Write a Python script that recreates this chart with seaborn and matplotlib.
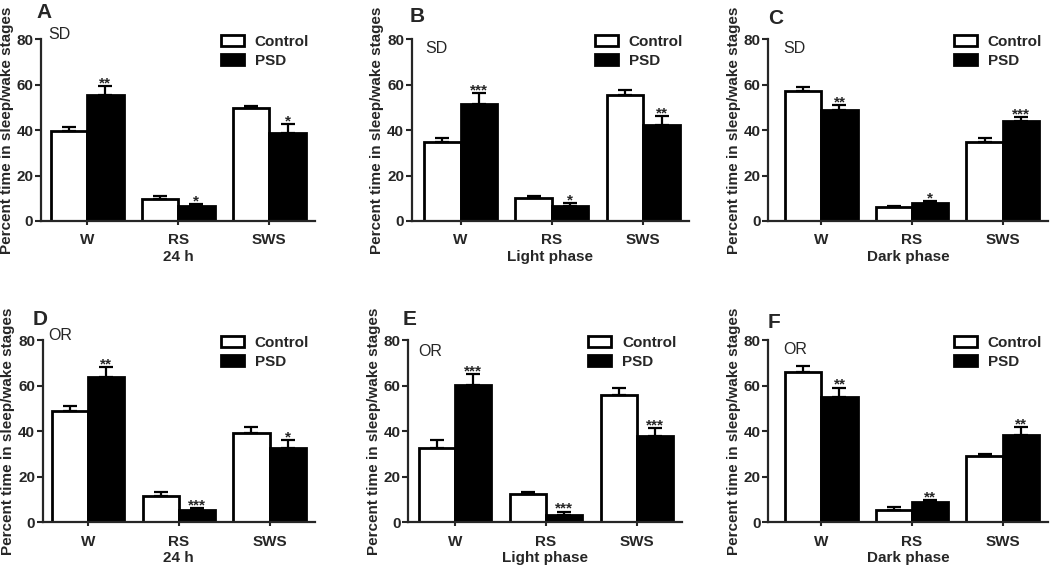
import numpy as np
import pandas as pd
import seaborn as sns
import matplotlib.pyplot as plt

# Sleep/wake stage data (mean, SEM)
stages = ['W', 'RS', 'SWS']
groups = ['Control', 'PSD']

a_ctrl = [39.6, 9.8, 49.9]
a_ctrl_err = [1.7, 1.1, 0.9]
a_psd = [55.6, 6.6, 38.9]
a_psd_err = [4.0, 0.9, 3.8]
a_stars = ['**', '*', '*']

b_ctrl = [34.7, 10.0, 55.4]
b_ctrl_err = [2.1, 0.9, 2.2]
b_psd = [51.5, 6.6, 42.5]
b_psd_err = [5.0, 1.5, 3.8]
b_stars = ['***', '*', '**']

c_ctrl = [57.4, 6.0, 34.8]
c_ctrl_err = [1.7, 0.8, 2.0]
c_psd = [48.9, 8.0, 44.0]
c_psd_err = [2.2, 0.7, 2.0]
c_stars = ['**', '*', '***']

d_ctrl = [49.0, 11.6, 39.4]
d_ctrl_err = [2.2, 1.6, 2.6]
d_psd = [63.7, 5.3, 32.6]
d_psd_err = [4.7, 1.0, 3.5]
d_stars = ['**', '***', '*']

e_ctrl = [32.6, 12.2, 56.1]
e_ctrl_err = [3.4, 1.0, 2.9]
e_psd = [60.5, 3.2, 37.9]
e_psd_err = [4.6, 1.4, 3.5]
e_stars = ['***', '***', '***']

f_ctrl = [65.9, 5.4, 29.0]
f_ctrl_err = [2.7, 1.0, 0.9]
f_psd = [55.1, 8.6, 38.3]
f_psd_err = [4.1, 1.1, 3.7]
f_stars = ['**', '**', '**']

letters = ['A', 'B', 'C', 'D', 'E', 'F']
conditions = ['SD', 'SD', 'SD', 'OR', 'OR', 'OR']
phases = ['24 h', 'Light phase', 'Dark phase', '24 h', 'Light phase', 'Dark phase']
y_ticks = [0, 20, 40, 60, 80]

panels = [
    (a_ctrl, a_ctrl_err, a_psd, a_psd_err, a_stars),
    (b_ctrl, b_ctrl_err, b_psd, b_psd_err, b_stars),
    (c_ctrl, c_ctrl_err, c_psd, c_psd_err, c_stars),
    (d_ctrl, d_ctrl_err, d_psd, d_psd_err, d_stars),
    (e_ctrl, e_ctrl_err, e_psd, e_psd_err, e_stars),
    (f_ctrl, f_ctrl_err, f_psd, f_psd_err, f_stars),
]

# Layout in pixels: axes left, right, top, bottom, x-limit start
W, H = 1050, 568
boxes = [
    (41, 315, 39.5, 221, -0.505),
    (411.7, 689, 39.5, 221, -0.535),
    (768.3, 1048, 39.5, 221, -0.585),
    (42.7, 315, 340.3, 522, -0.5),
    (408.3, 682.5, 340.3, 522, -0.514),
    (768.3, 1048, 340.3, 522, -0.585),
]
letter_pos = [(36, 17.5), (410, 21.5), (768, 24.5), (33, 325), (403, 325), (768, 328)]
cond_pos = [(48, 39), (425, 53), (783, 53), (48, 340), (418, 356), (783, 354)]

sns.set_style('ticks')
plt.rcParams['font.family'] = ['Liberation Sans', 'DejaVu Sans']
plt.rcParams['font.weight'] = 'bold'
plt.rcParams['axes.labelweight'] = 'bold'

fig = plt.figure(figsize=(W / 100, H / 100), dpi=100)

for i, (ctrl, ctrl_err, psd, psd_err, stars) in enumerate(panels):
    left, right, top, bottom, xmin = boxes[i]
    ax = fig.add_axes([left / W, 1 - bottom / H, (right - left) / W, (bottom - top) / H])

    df = pd.DataFrame({
        'stage': stages * 2,
        'group': [groups[0]] * 3 + [groups[1]] * 3,
        'value': ctrl + psd,
    })
    sns.barplot(data=df, x='stage', y='value', hue='group',
                palette={'Control': 'white', 'PSD': 'black'},
                edgecolor='black', linewidth=2, errorbar=None, ax=ax)

    # one-sided SEM bars on top of each bar
    for k, (cont, err) in enumerate(zip(ax.containers, [ctrl_err, psd_err])):
        xs = [b.get_x() + b.get_width() / 2 for b in cont]
        hs = [b.get_height() for b in cont]
        ax.errorbar(xs, hs, yerr=[np.zeros(len(err)), err], fmt='none',
                    ecolor='black', elinewidth=1.6, capsize=5, capthick=1.6)
        if k == 1:
            for x, h, e, s in zip(xs, hs, err, stars):
                ax.annotate(s, (x, h + e), xytext=(0, -1), textcoords='offset points',
                            ha='center', va='baseline', fontsize=11, fontweight='bold')

    ax.set_ylim(0, 80)
    ax.set_xlim(xmin, 2.5)
    ax.set_yticks(y_ticks)
    ax.set_xlabel(phases[i], fontsize=11, labelpad=2)
    ax.set_ylabel('Percent time in sleep/wake stages', fontsize=11, labelpad=2)
    ax.tick_params(axis='y', labelsize=11, length=4, width=1.5, pad=1.5)
    ax.tick_params(axis='x', labelsize=11, length=3, width=1.5, pad=6)
    for sp in ['left', 'bottom']:
        ax.spines[sp].set_linewidth(1.6)
    sns.despine(ax=ax)

    sns.move_legend(ax, 'upper right', bbox_to_anchor=(1.0, 1.06), frameon=False,
                    title=None, prop={'weight': 'bold', 'size': 11},
                    handlelength=1.5, handleheight=0.7, handletextpad=0.7,
                    labelspacing=0.35, borderaxespad=0)

    lx, ly = letter_pos[i]
    fig.text(lx / W, 1 - ly / H, letters[i], fontsize=15, fontweight='bold',
             ha='left', va='baseline')
    cx, cy = cond_pos[i]
    fig.text(cx / W, 1 - cy / H, conditions[i], fontsize=11.5, fontweight='normal',
             ha='left', va='baseline')

fig.savefig('out.png', dpi=100)
